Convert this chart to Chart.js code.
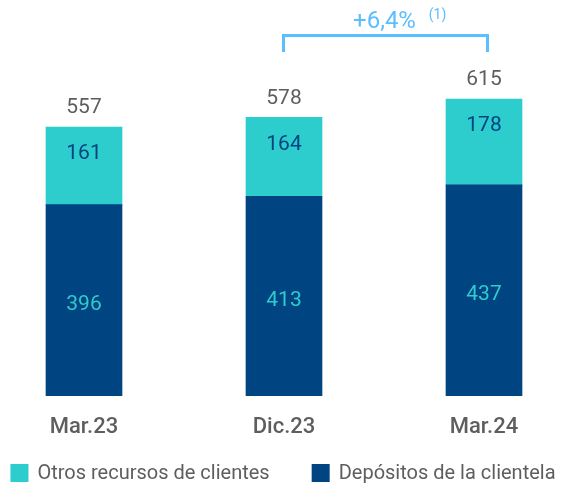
<!DOCTYPE html>
<html>
<head>
<meta charset="utf-8">
<script src="https://cdn.jsdelivr.net/npm/chart.js@4.4.1/dist/chart.umd.min.js"></script>
<style>
  html, body { margin: 0; padding: 0; background: #ffffff; }
  #wrap { width: 564px; height: 484px; position: relative; }
</style>
</head>
<body>
<div id="wrap"><canvas id="c" width="564" height="484"></canvas></div>
<script>
const categories = ['Mar.23', 'Dic.23', 'Mar.24'];
const depositos = [396, 413, 437];
const otros = [161, 164, 178];
const totals = [557, 578, 615];
const growthLabel = '+6,4%';
const growthNote = '(1)';
const seriesNames = ['Depósitos de la clientela', 'Otros recursos de clientes'];

const NAVY = '#004481';
const AQUA = '#2DCCCD';
const GREY = '#5e5e5e';
const SKY = '#5BBEFF';
const FONT = 'Roboto, "Open Sans", sans-serif';

const labelPlugin = {
  id: 'labels',
  afterDatasetsDraw(chart) {
    const ctx = chart.ctx;
    const mDep = chart.getDatasetMeta(0);
    const mOt = chart.getDatasetMeta(1);
    ctx.save();
    ctx.textAlign = 'center';
    ctx.textBaseline = 'middle';
    ctx.font = '400 21px ' + FONT;
    for (let i = 0; i < categories.length; i++) {
      const bd = mDep.data[i];
      const bo = mOt.data[i];
      ctx.fillStyle = AQUA;
      ctx.fillText(String(depositos[i]), bd.x, (bd.y + bd.base) / 2 + 5);
      ctx.fillStyle = NAVY;
      ctx.fillText(String(otros[i]), bo.x, bo.y + 27);
      ctx.fillStyle = GREY;
      ctx.fillText(String(totals[i]), bo.x, bo.y - 19);
    }
    // growth bracket between Dic.23 and Mar.24
    const b1 = mOt.data[1];
    const b2 = mOt.data[2];
    const x1 = b1.x - 0.5;
    const x2 = b2.x + 3.5;
    const yTop = 35.5;
    const yBot = 52;
    ctx.strokeStyle = SKY;
    ctx.lineWidth = 3;
    ctx.lineCap = 'butt';
    ctx.lineJoin = 'miter';
    ctx.beginPath();
    ctx.moveTo(x1, yBot);
    ctx.lineTo(x1, yTop);
    ctx.lineTo(x2, yTop);
    ctx.lineTo(x2, yBot);
    ctx.stroke();
    ctx.fillStyle = SKY;
    ctx.font = '400 24px ' + FONT;
    const cx = (x1 + x2) / 2;
    ctx.fillText(growthLabel, cx - 1, 22);
    ctx.font = '400 14px ' + FONT;
    ctx.fillText(growthNote, cx + 52, 15);

    // legend (Otros first, then Depósitos)
    const items = [
      { text: chart.data.datasets[1].label, color: chart.data.datasets[1].backgroundColor },
      { text: chart.data.datasets[0].label, color: chart.data.datasets[0].backgroundColor }
    ];
    ctx.font = '400 20px ' + FONT;
    ctx.textAlign = 'left';
    const box = 18, gapText = 9, gapItem = 42;
    const widths = items.map(it => box + gapText + ctx.measureText(it.text).width);
    const total = widths[0] + gapItem + widths[1];
    let x = (chart.width - total) / 2 + 1;
    const yc = 473;
    items.forEach((it, k) => {
      ctx.fillStyle = it.color;
      ctx.fillRect(x, yc - box / 2, box, box);
      ctx.fillStyle = GREY;
      ctx.fillText(it.text, x + box + gapText, yc + 1);
      x += widths[k] + gapItem;
    });
    ctx.restore();
  }
};

new Chart(document.getElementById('c'), {
  type: 'bar',
  data: {
    labels: categories,
    datasets: [
      { label: seriesNames[0], data: depositos, backgroundColor: NAVY, borderWidth: 0, barThickness: 76, clip: false },
      { label: seriesNames[1], data: otros, backgroundColor: AQUA, borderWidth: 0, barThickness: 76, clip: false }
    ]
  },
  options: {
    responsive: false,
    animation: false,
    devicePixelRatio: 1,
    layout: { padding: { top: 58, left: 84, right: 80, bottom: 24 } },
    scales: {
      x: {
        stacked: true,
        offset: false,
        grid: { display: false, drawTicks: false },
        border: { display: false },
        ticks: { color: GREY, font: { family: FONT, size: 22, weight: '500' }, padding: 19 }
      },
      y: {
        stacked: true,
        display: false,
        min: 0,
        max: 700
      }
    },
    plugins: {
      tooltip: { enabled: false },
      legend: { display: false }
    }
  },
  plugins: [labelPlugin]
});
</script>
</body>
</html>
